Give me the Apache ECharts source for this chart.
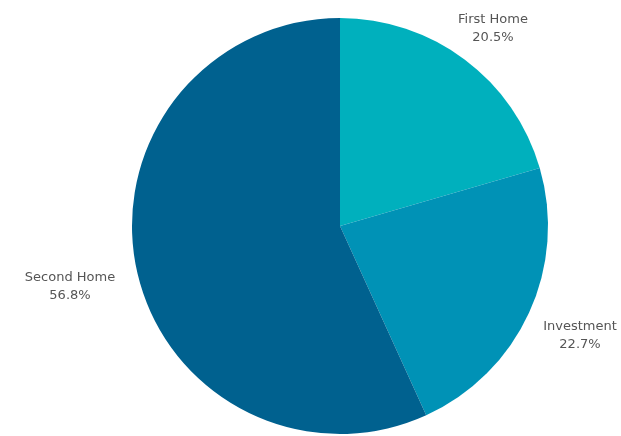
<!DOCTYPE html>
<html>
<head>
<meta charset="utf-8">
<script src="https://cdn.jsdelivr.net/npm/echarts@6/dist/echarts.min.js"></script>
<style>
html,body{margin:0;padding:0;background:#fff;}
#chart{width:621px;height:436px;}
</style>
</head>
<body>
<div id="chart"></div>
<script>
const categories = ["First Home", "Investment", "Second Home"];
const values = [20.5, 22.7, 56.8];
const colors = ["#00B0BD", "#0092B6", "#00618F"];
// label anchor positions (layout only)
const labelPos = [[493, 29], [580, 336], [70, 287]];

const chart = echarts.init(document.getElementById('chart'), null, {renderer: 'canvas'});
chart.setOption({
  backgroundColor: '#ffffff',
  animation: false,
  series: [{
    type: 'pie',
    center: [340, 226],
    radius: 208,
    startAngle: 90,
    clockwise: true,
    data: categories.map((c, i) => ({name: c, value: values[i], itemStyle: {color: colors[i]}})),
    label: {
      show: true,
      position: 'outside',
      formatter: p => p.name + '\n' + p.value.toFixed(1) + '%',
      fontFamily: 'DejaVu Sans, sans-serif',
      fontSize: 13,
      color: '#555',
      align: 'center',
      lineHeight: 18,
      overflow: 'none'
    },
    labelLine: {show: false},
    labelLayout: p => ({
      x: labelPos[p.dataIndex][0],
      y: labelPos[p.dataIndex][1],
      align: 'center',
      verticalAlign: 'middle',
      hideOverlap: false
    }),
    itemStyle: {borderWidth: 0}
  }]
});
</script>
</body>
</html>
